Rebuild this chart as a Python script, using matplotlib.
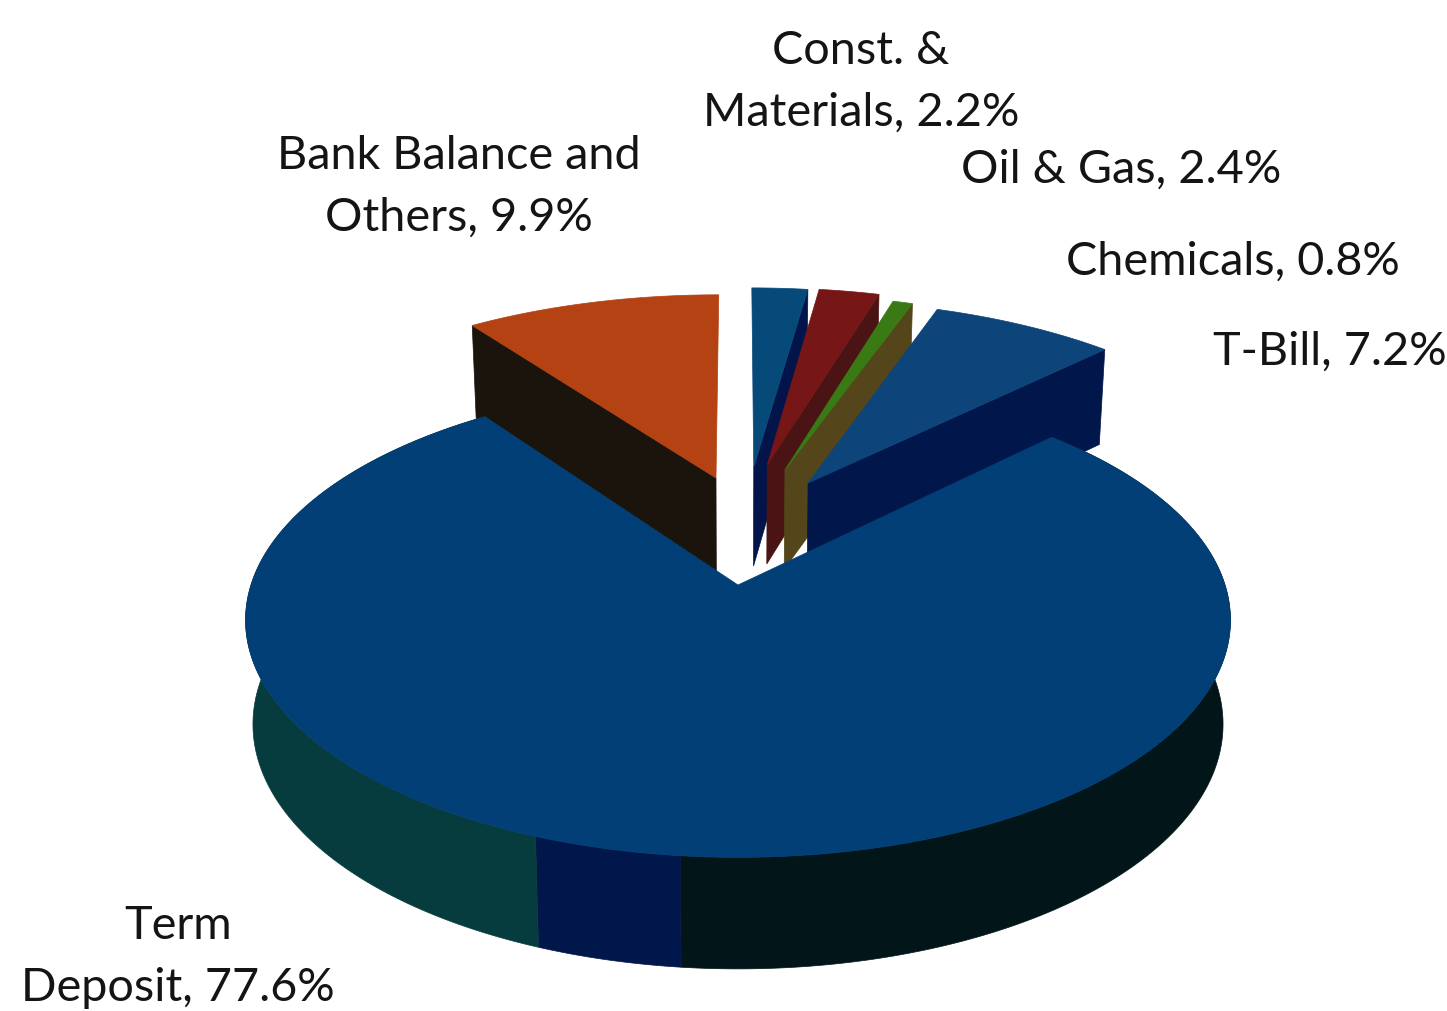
import numpy as np
import matplotlib
matplotlib.use('Agg')
import matplotlib.pyplot as plt

# 数据
names = ['Const. &\nMaterials', 'Oil & Gas', 'Chemicals', 'T-Bill', 'Term\nDeposit', 'Bank Balance and\nOthers']
values = [2.2, 2.4, 0.8, 7.2, 77.6, 9.9]

# 每块的样式
top_colors = ['#064a7a', '#761616', '#3a7a14', '#0d4479', '#023f76', '#b54212']
wall_colors = ['#03144a', '#4a1414', '#54461a', '#01164a', None, '#1a140c']
shift_u = [0.035, 0.065, 0.104, 0.154, 0.0, -0.0485]
shift_v = [0.55, 0.56, 0.535, 0.47, 0.0, 0.495]
scale_r = [1.03, 1.02, 1.0, 1.03, 1.0, 1.04]
label_x = [861, 1121, 1233, 1330, 178, 459]
label_y = [82, 170, 262, 352, 957, 187]

# 大块侧面的颜色分段（角度，从正上方顺时针）
band_edges = [45.3, 185.8, 201.0, 324.4]
band_colors = ['#02161a', '#01164a', '#063c3e']

# 透视投影参数
cx, cy = 738, 585
rx, ry = 487, 232
k = 0.148
depth = 103


def project(u, v, low=False):
    s = 1 / (1 + k * v)
    x = cx + rx * u * s
    y = cy - ry * v * s
    if low:
        x = cx + (x - cx) * 0.985
        y = y + depth * np.sqrt(s)
    return x, y


def rim(a0, a1, i=None, low=False):
    t = np.radians(np.linspace(a0, a1, max(int(abs(a1 - a0) * 2), 2)))
    r = 1.0 if i is None else scale_r[i]
    u0 = 0 if i is None else shift_u[i]
    v0 = 0 if i is None else shift_v[i]
    return project(u0 + r * np.sin(t), v0 + r * np.cos(t), low)


def radial_wall(ax, a, i, color):
    # 切面：顶面边线向下拉伸
    x0, y0 = project(shift_u[i], shift_v[i])
    x1, y1 = rim(a, a, i)
    x2, y2 = rim(a, a, i, low=True)
    x3, y3 = project(shift_u[i], shift_v[i], low=True)
    ax.fill([x0, x1[0], x2[0], x3], [y0, y1[0], y2[0], y3], color=color, lw=0.5)


fig = plt.figure(figsize=(14.47, 10.11), dpi=100)
ax = fig.add_axes([0, 0, 1, 1])
ax.set_xlim(0, 1447)
ax.set_ylim(1011, 0)
ax.axis('off')

fractions = np.array(values) / sum(values)
edges = np.concatenate([[0], np.cumsum(fractions) * 360])

# 先画后面分离的块，最后画大块
for i in [5, 0, 1, 2, 3]:
    a0, a1 = edges[i], edges[i + 1]
    # 左边的块露出左切面，其余露出右切面
    radial_wall(ax, a0 if i == 5 else a1, i, wall_colors[i])
    x, y = rim(a0, a1, i)
    ax_, ay_ = project(shift_u[i], shift_v[i])
    ax.fill(np.r_[ax_, x], np.r_[ay_, y], color=top_colors[i], lw=0.5)

# Term Deposit 的外侧面
for j in range(len(band_colors)):
    xt, yt = rim(band_edges[j], band_edges[j + 1])
    xb, yb = rim(band_edges[j], band_edges[j + 1], low=True)
    ax.fill(np.r_[xt, xb[::-1]], np.r_[yt, yb[::-1]], color=band_colors[j], lw=0.5)

x, y = rim(edges[4], edges[5])
ax.fill(np.r_[cx, x], np.r_[cy, y], color=top_colors[4], lw=0.5)

for i in range(len(values)):
    ax.text(label_x[i], label_y[i], f'{names[i]}, {values[i]}%', ha='center', va='center',
            family='Lato', fontsize=33.7, color='#141414', linespacing=1.56)

fig.savefig('out.png', dpi=100)
